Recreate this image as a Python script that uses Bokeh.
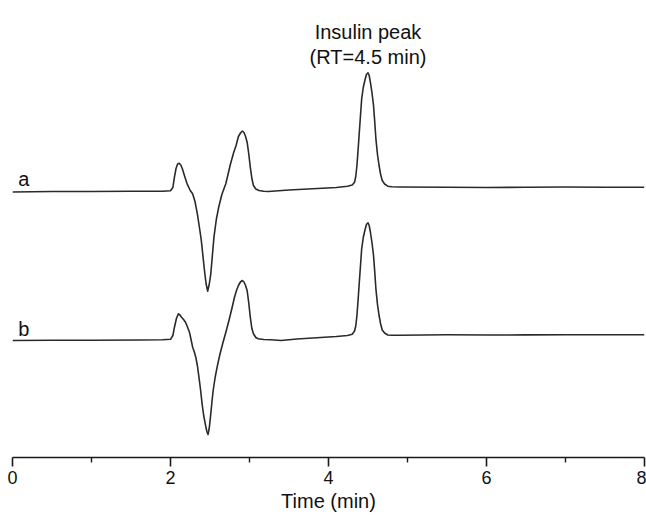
from bokeh.plotting import figure
from bokeh.models import Range1d, FixedTicker
from bokeh.core.properties import value
from bokeh.embed import file_html
from bokeh.resources import INLINE

# ---- data (signal relative to each trace's baseline) ----
time_a = [0.0, 0.5, 1.0, 1.5, 1.9, 2.0, 2.03, 2.05, 2.07, 2.09, 2.11, 2.13, 2.15, 2.18, 2.21, 2.25,
          2.28, 2.31, 2.34, 2.37, 2.39, 2.41, 2.43, 2.45, 2.47, 2.49, 2.51, 2.53, 2.55, 2.58, 2.61,
          2.65, 2.70, 2.76, 2.80, 2.83, 2.86, 2.89, 2.91, 2.93, 2.95, 2.97, 2.99, 3.01, 3.03, 3.05,
          3.08, 3.12, 3.18, 3.24, 3.5, 3.8, 4.1, 4.24, 4.30, 4.33, 4.345, 4.36, 4.375, 4.39, 4.405,
          4.42, 4.44, 4.46, 4.48, 4.50, 4.515, 4.53, 4.55, 4.57, 4.585, 4.60, 4.62, 4.64, 4.66, 4.68,
          4.71, 4.75, 4.80, 4.90, 5.5, 6.0, 6.5, 7.0, 7.5, 8.0]
signal_a = [-0.5, 0.0, 0.0, 0.2, 0.3, 0.8, 4.0, 14.3, 23.0, 27.5, 28.3, 26.5, 22.7, 15.0, 7.7, 1.0,
            -2.3, -10.0, -22.3, -38.0, -49.0, -64.0, -79.0, -92.0, -99.7, -93.0, -82.3, -64.0, -45.7, -28.0, -15.7,
            -3.0, 7.7, 27.7, 39.0, 46.0, 55.0, 59.0, 60.3, 59.0, 55.0, 49.3, 38.0, 24.3, 13.0, 6.0,
            2.5, 1.0, 0.3, 0.0, 1.5, 2.8, 4.0, 5.3, 6.5, 9.3, 15.0, 26.0, 42.0, 59.3, 76.0,
            92.7, 104.0, 111.0, 117.0, 118.7, 116.0, 109.3, 99.0, 86.0, 70.0, 52.7, 37.0, 26.0, 17.0, 11.0,
            7.5, 5.3, 4.7, 4.5, 4.3, 4.0, 4.2, 4.5, 4.3, 4.3]

time_b = [0.0, 0.5, 1.0, 1.6, 1.9, 2.0, 2.03, 2.05, 2.075, 2.10, 2.12, 2.14, 2.165, 2.19, 2.215, 2.24,
          2.26, 2.28, 2.30, 2.32, 2.34, 2.36, 2.38, 2.40, 2.42, 2.44, 2.46, 2.475, 2.49, 2.51, 2.525,
          2.54, 2.565, 2.59, 2.625, 2.66, 2.70, 2.74, 2.78, 2.81, 2.835, 2.86, 2.885, 2.91, 2.93, 2.95,
          2.97, 2.99, 3.01, 3.03, 3.05, 3.08, 3.11, 3.18, 3.27, 3.4, 3.6, 3.9, 4.1, 4.24, 4.30, 4.33,
          4.345, 4.36, 4.375, 4.39, 4.405, 4.42, 4.44, 4.46, 4.48, 4.50, 4.515, 4.53, 4.55, 4.57,
          4.585, 4.60, 4.62, 4.64, 4.66, 4.68, 4.71, 4.75, 4.80, 4.90, 5.5, 6.0, 6.5, 7.0, 7.5, 8.0]
signal_b = [0.0, 0.2, 0.3, 0.5, 0.7, 1.2, 5.0, 13.3, 22.0, 26.7, 25.5, 23.3, 21.0, 18.3, 13.5, 8.3,
            1.0, -6.7, -11.0, -16.7, -25.0, -36.7, -49.0, -63.3, -75.0, -83.3, -91.0, -94.0, -88.0, -73.3, -61.0,
            -50.0, -37.0, -26.7, -14.0, -3.3, 8.0, 20.0, 33.0, 43.3, 50.0, 55.0, 58.5, 60.0, 58.5, 55.0,
            50.0, 38.0, 23.3, 12.0, 6.7, 3.0, 1.7, 1.0, 0.7, 0.0, 1.5, 3.0, 4.0, 5.0, 6.3, 9.5,
            14.5, 25.0, 41.0, 58.3, 75.0, 91.7, 103.0, 110.0, 116.0, 117.7, 115.0, 108.5, 98.0, 85.0,
            69.0, 51.7, 36.0, 25.0, 16.5, 10.5, 7.5, 5.5, 5.3, 5.3, 5.7, 5.5, 5.6, 5.7, 5.7, 5.7]

x_ticks = [0, 2, 4, 6, 8]
x_minor_ticks = [1, 3, 5, 7]
trace_labels = ["a", "b"]
peak_label = ["Insulin peak", "(RT=4.5 min)"]
x_label = "Time (min)"

# ---- layout constants ----
offset_a = 266.0
offset_b = 117.0
FONT = "Liberation Sans"

p = figure(width=646, height=518, output_backend="svg", toolbar_location=None,
           x_range=Range1d(0, 8), y_range=Range1d(0, 457),
           min_border_left=12, min_border_right=2, min_border_top=0, min_border_bottom=61)
p.outline_line_color = None
p.xgrid.visible = False
p.ygrid.visible = False
p.yaxis.visible = False
p.background_fill_color = "white"
p.border_fill_color = "white"

ya = [offset_a + s for s in signal_a]
yb = [offset_b + s for s in signal_b]
p.line(time_a, ya, line_color="#2a2a2a", line_width=1.6, line_join="round")
p.line(time_b, yb, line_color="#2a2a2a", line_width=1.6, line_join="round")

ax = p.xaxis[0]
ax.ticker = FixedTicker(ticks=x_ticks, minor_ticks=x_minor_ticks)
ax.axis_label = x_label
ax.axis_line_color = "#1a1a1a"
ax.axis_line_width = 1.6
ax.major_tick_line_color = "#1a1a1a"
ax.major_tick_line_width = 1.6
ax.major_tick_in = 0
ax.major_tick_out = 9
ax.minor_tick_line_color = "#1a1a1a"
ax.minor_tick_line_width = 1.4
ax.minor_tick_in = 0
ax.minor_tick_out = 5
ax.major_label_text_font = FONT
ax.major_label_text_font_size = "18px"
ax.major_label_text_color = "#111111"
ax.major_label_standoff = 4
ax.axis_label_text_font = FONT
ax.axis_label_text_font_size = "20px"
ax.axis_label_text_font_style = "normal"
ax.axis_label_text_color = "#111111"
ax.axis_label_standoff = 3

# trace labels a / b
p.text(x=[0.143, 0.143], y=[457 - 178.3, 457 - 328.3], text=trace_labels,
       text_font=value(FONT), text_font_size="20px", text_color="#111111",
       text_align="center", text_baseline="alphabetic")

# insulin peak annotation
p.text(x=[4.5, 4.5], y=[457 - 31.7, 457 - 56.7], text=peak_label,
       text_font=value(FONT), text_font_size="20px", text_color="#111111",
       text_align="center", text_baseline="alphabetic")

open("out.html", "w").write(file_html(p, INLINE))
